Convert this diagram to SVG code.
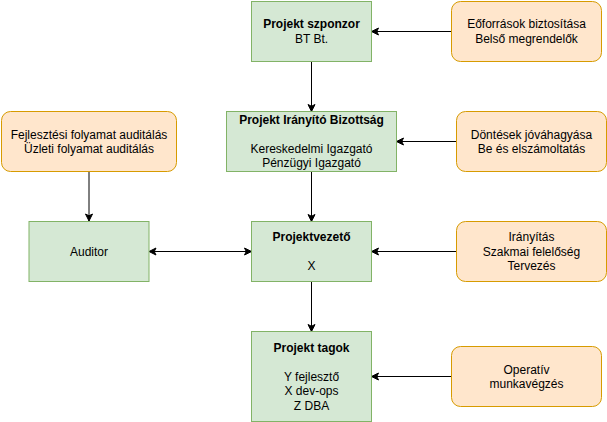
<svg xmlns="http://www.w3.org/2000/svg" width="607" height="422" viewBox="0 0 607 422">
<style>
.g{fill:#d5e8d4;stroke:#82b366;stroke-width:1}
.o{fill:#ffe6cc;stroke:#d79b00;stroke-width:1}
text{font-family:"Liberation Sans",Arial,Helvetica,sans-serif;font-size:12px;fill:#000;text-anchor:middle}
.b{font-weight:bold}
.c{fill:none;stroke:#000;stroke-width:1}
</style>
<defs>
<marker id="ah" markerUnits="userSpaceOnUse" markerWidth="8" markerHeight="8" refX="7" refY="3.5" orient="auto-start-reverse" overflow="visible">
<path d="M0,0 L7,3.5 L0,7 L1.75,3.5 Z" fill="#000" stroke="#000" stroke-width="1"/>
</marker>
</defs>
<rect width="607" height="422" fill="#fff"/>
<g id="connectors">
<path class="c" d="M451.5,31.5 L371.5,31.5" marker-end="url(#ah)"/>
<path class="c" d="M311.5,61.5 L311.5,111.5" marker-end="url(#ah)"/>
<path class="c" d="M456.5,141.5 L396.5,141.5" marker-end="url(#ah)"/>
<path class="c" d="M89,171.5 L89,221" marker-end="url(#ah)"/>
<path class="c" d="M311.5,171.5 L311.5,221.5" marker-end="url(#ah)"/>
<path class="c" d="M149,251.5 L251.5,251.5" marker-start="url(#ah)" marker-end="url(#ah)"/>
<path class="c" d="M456.5,251.5 L371.5,251.5" marker-end="url(#ah)"/>
<path class="c" d="M311.5,281.5 L311.5,331.5" marker-end="url(#ah)"/>
<path class="c" d="M451.5,376.5 L371.5,376.5" marker-end="url(#ah)"/>
</g>
<g id="sponsor">
<rect class="g" x="251.5" y="1.5" width="120" height="60"/>
<text x="311.5" y="28.4" class="b">Projekt szponzor</text>
<text x="311.5" y="42.8">BT Bt.</text>
</g>
<g id="resources">
<rect class="o" x="451.5" y="1.5" width="150" height="60" rx="9" ry="9"/>
<text x="526.5" y="28.4">Eőforrások biztosítása</text>
<text x="526.5" y="42.8">Belső megrendelők</text>
</g>
<g id="steering">
<rect class="g" x="226.5" y="111.5" width="170" height="60"/>
<text x="311.5" y="124.2" class="b">Projekt Irányító Bizottság</text>
<text x="311.5" y="153">Kereskedelmi Igazgató</text>
<text x="311.5" y="167.4">Pénzügyi Igazgató</text>
</g>
<g id="decisions">
<rect class="o" x="456.5" y="111.5" width="150" height="60" rx="9" ry="9"/>
<text x="531.5" y="138.6">Döntések jóváhagyása</text>
<text x="531.5" y="153">Be és elszámoltatás</text>
</g>
<g id="audits">
<rect class="o" x="1.5" y="111.5" width="175" height="60" rx="9" ry="9"/>
<text x="89" y="138.6">Fejlesztési folyamat auditálás</text>
<text x="89" y="153">Üzleti folyamat auditálás</text>
</g>
<g id="auditor">
<rect class="g" x="29" y="221.5" width="120" height="60"/>
<text x="89" y="255.8">Auditor</text>
</g>
<g id="pm">
<rect class="g" x="251.5" y="221.5" width="120" height="60"/>
<text x="311.5" y="241.4" class="b">Projektvezető</text>
<text x="311.5" y="270.2">X</text>
</g>
<g id="direction">
<rect class="o" x="456.5" y="221.5" width="150" height="60" rx="9" ry="9"/>
<text x="531.5" y="241.4">Irányítás</text>
<text x="531.5" y="255.8">Szakmai felelőség</text>
<text x="531.5" y="270.2">Tervezés</text>
</g>
<g id="members">
<rect class="g" x="251.5" y="331.5" width="120" height="90"/>
<text x="311.5" y="351.9" class="b">Projekt tagok</text>
<text x="311.5" y="380.7">Y fejlesztő</text>
<text x="311.5" y="395.1">X dev-ops</text>
<text x="311.5" y="409.5">Z DBA</text>
</g>
<g id="operative">
<rect class="o" x="451.5" y="346.5" width="150" height="60" rx="9" ry="9"/>
<text x="526.5" y="373.6">Operatív</text>
<text x="526.5" y="388">munkavégzés</text>
</g>
</svg>
